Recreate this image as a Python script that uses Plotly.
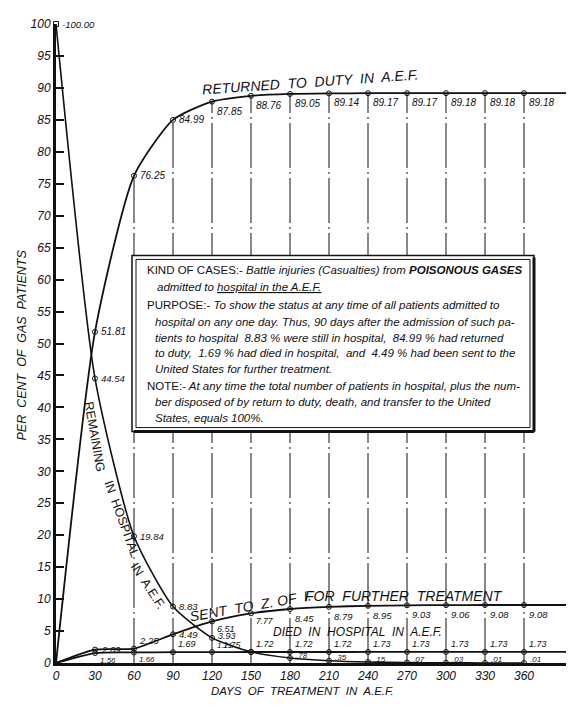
import plotly.graph_objects as go

# ---------------- data ----------------
days = [0, 30, 60, 90, 120, 150, 180, 210, 240, 270, 300, 330, 360]
returned = [0, 51.81, 76.25, 84.99, 87.85, 88.76, 89.05, 89.14, 89.17, 89.17, 89.18, 89.18, 89.18]
remaining = [100, 44.54, 19.84, 8.83, 3.93, 1.75, 0.78, 0.35, 0.15, 0.07, 0.03, 0.01, 0.01]
sent = [0, 2.09, 2.25, 4.49, 6.51, 7.77, 8.45, 8.79, 8.95, 9.03, 9.06, 9.08, 9.08]
died = [0, 1.56, 1.66, 1.69, 1.71, 1.72, 1.72, 1.72, 1.73, 1.73, 1.73, 1.73, 1.73]
y_ticks = list(range(0, 101, 5))
x_ticks = days

# ---------------- style / layout helpers ----------------
SW, SH = 576, 705          # browser window
OFF = 8                    # default body margin of the page
SL, ST = 56, 17            # plot-area left / top in window pixels
R, B = 10, 42
FW, FH = SW - OFF, SH - OFF
L, T = SL - OFF, ST - OFF
pw, ph = FW - L - R, FH - T - B
X_END = pw / 1.3
FONT = "Liberation Sans"
INK = "#111"

def px(x):
    return (x - SL) / pw

def py(y):
    return (ST + ph - y) / ph

def fmt(v, lead=True):
    s = f"{v:.2f}"
    if not lead and v < 1:
        s = s.lstrip("0")
    return s

fig = go.Figure()

# vertical guide lines (drawn first, box covers them)
vx, vy = [], []
for d, v in zip(days[2:], returned[2:]):
    vx += [d, d, None]
    vy += [0, v, None]
fig.add_trace(go.Scatter(x=vx, y=vy, mode="lines", hoverinfo="skip",
                         line=dict(color=INK, width=1, dash="45px,4px,2px,4px"),
                         showlegend=False))

def curve(xs, ys, width=1.6, extend=True):
    x = list(xs) + ([X_END] if extend else [])
    y = list(ys) + ([ys[-1]] if extend else [])
    fig.add_trace(go.Scatter(x=x, y=y, mode="lines", line=dict(color=INK, width=width, shape="spline", smoothing=0.6),
                             hoverinfo="skip", showlegend=False, cliponaxis=False))
    fig.add_trace(go.Scatter(x=xs[1:], y=ys[1:], mode="markers", hoverinfo="skip", showlegend=False, cliponaxis=False,
                             marker=dict(symbol="circle-open", size=5, color=INK, line=dict(width=1))))

curve(days, returned, width=1.8)
curve(days, remaining, width=1.6, extend=False)
curve(days, sent, width=1.8)
curve(days, died, width=1.8)
fig.add_trace(go.Scatter(x=[days[0]], y=[remaining[0]], mode="markers", hoverinfo="skip", showlegend=False,
                         cliponaxis=False, marker=dict(symbol="square-open", size=5, color=INK, line=dict(width=1))))

ann = []

# placement codes: (xshift, yshift, xanchor, yanchor, size delta)
PLACE = {
    "r": (4, 0, "left", "middle", 0),
    "rm": (4, 2, "left", "middle", -0.5),
    "br": (3, -2, "left", "top", 0),
    "bt": (3, -1, "left", "top", -0.5),
    "bn": (3, -1, "left", "top", -1),
    "bs": (3, -1, "left", "top", -1),
    "ar": (3, 1, "left", "bottom", 0),
    "as": (3, 0, "left", "bottom", -1),
    "al": (-7, 0, "right", "bottom", -0.5),
    "ru": (4, 3, "left", "middle", -1.5),
}

def point_labels(ys, codes, lead=True, texts=None, size=10):
    for i, (d, v, c) in enumerate(zip(days, ys, codes)):
        if c is None:
            continue
        t = texts[i] if texts else fmt(v, lead)
        xs, ys_, xa, ya, ds = PLACE[c]
        ann.append(dict(x=d, y=v, xref="x", yref="y", text=t, showarrow=False, xanchor=xa, yanchor=ya,
                        xshift=xs, yshift=ys_, font=dict(family=FONT, size=size + ds, color=INK, style="italic")))

point_labels(returned, [None, "r", "r", "r"] + ["br"] * 9)
rem_texts = ["-100.00"] + [fmt(v, False) for v in remaining[1:]]
point_labels(remaining, ["r", "r", "r", "r", "rm", "al"] + ["ru"] * 7, texts=rem_texts, size=9.5)
point_labels(sent, [None, "r", "ar", "r", "bt", "bn"] + ["br"] * 7, size=9.5)
point_labels(died, [None, "bs", "bs", "ar", "as"] + ["ar"] * 8, size=9)

# curve titles
CT = dict(family=FONT, size=14, color=INK, style="italic")
def paper_text(x, y, text, font, angle=0, xa="center", ya="middle"):
    ann.append(dict(x=px(x), y=py(y), xref="paper", yref="paper", text=text, showarrow=False,
                    textangle=angle, xanchor=xa, yanchor=ya, font=font))

paper_text(310, 76, "RETURNED  TO  DUTY  IN  A.E.F.", CT, angle=-4)
paper_text(250, 605, "SENT  TO  Z. OF  I.", CT, angle=-10)
paper_text(404, 595, "FOR  FURTHER  TREATMENT", CT)
paper_text(357, 632, "DIED  IN  HOSPITAL  IN  A.E.F.", dict(family=FONT, size=12, color=INK, style="italic"))
RT = dict(family=FONT, size=12.5, color=INK)
paper_text(94, 434, "REMAINING", RT, angle=80)
paper_text(122, 517, "IN  HOSPITAL", RT, angle=70)
paper_text(148, 585, "IN  A.E.F.", RT, angle=57)

# axis titles
paper_text(22, 342, "PER  CENT  OF  GAS  PATIENTS", dict(family=FONT, size=12.5, color=INK, style="italic"), angle=-90)
paper_text(302, 691, "DAYS  OF  TREATMENT  IN  A.E.F.", dict(family=FONT, size=11.5, color=INK, style="italic"))

# text box
BX = dict(family=FONT, size=11.5, color=INK, style="italic")
box_lines = [
    (145, 266, "<span style='font-style:normal'>KIND OF CASES:-</span> Battle injuries (Casualties) from <b>POISONOUS GASES</b>"),
    (155, 283, "admitted to <u>hospital in the A.E.F.</u>"),
    (145, 301, "<span style='font-style:normal'>PURPOSE:-</span> To show the status at any time of all patients admitted to"),
    (153, 318, "hospital on any one day. Thus, 90 days after the admission of such pa-"),
    (153, 334, "tients to hospital  8.83 % were still in hospital,  84.99 % had returned"),
    (153, 350, "to duty,  1.69 % had died in hospital,  and  4.49 % had been sent to the"),
    (153, 366, "United States for further treatment."),
    (145, 383, "<span style='font-style:normal'>NOTE:-</span> At any time the total number of patients in hospital, plus the num-"),
    (153, 399, "ber disposed of by return to duty, death, and transfer to the United"),
    (153, 415, "States, equals 100%."),
]
for x, y, t in box_lines:
    paper_text(x, y, t, BX, xa="left")

shapes = [
    dict(type="rect", xref="paper", yref="paper", x0=px(132), x1=px(534), y0=py(429), y1=py(251),
         line=dict(color=INK, width=1.5), fillcolor="white", layer="above"),
    dict(type="rect", xref="paper", yref="paper", x0=px(136), x1=px(530), y0=py(425), y1=py(255),
         line=dict(color=INK, width=1), fillcolor="rgba(0,0,0,0)", layer="above"),
    dict(type="line", xref="paper", yref="paper", x0=px(534), x1=px(534), y0=py(429), y1=py(253),
         line=dict(color=INK, width=3), layer="above"),
    dict(type="line", xref="paper", yref="paper", x0=px(134), x1=px(534), y0=py(429), y1=py(429),
         line=dict(color=INK, width=3), layer="above"),
]

fig.update_layout(
    width=FW, height=FH, margin=dict(l=L, r=R, t=T, b=B),
    paper_bgcolor="white", plot_bgcolor="white", showlegend=False,
    annotations=ann, shapes=shapes,
    xaxis=dict(range=[0, X_END], tickmode="array", tickvals=x_ticks, ticktext=[str(v) for v in x_ticks],
               showgrid=False, zeroline=False, showline=True, linecolor=INK, linewidth=3, ticks="",
               tickfont=dict(family=FONT, size=12, color=INK, style="italic")),
    yaxis=dict(range=[0, 100], tickmode="array", tickvals=y_ticks, ticktext=[str(v) for v in y_ticks],
               showgrid=False, zeroline=False, showline=True, linecolor=INK, linewidth=3,
               ticks="inside", ticklen=8, tickwidth=1.5, tickcolor=INK,
               tickfont=dict(family=FONT, size=12, color=INK, style="italic")),
)

fig.write_html("out.html")
